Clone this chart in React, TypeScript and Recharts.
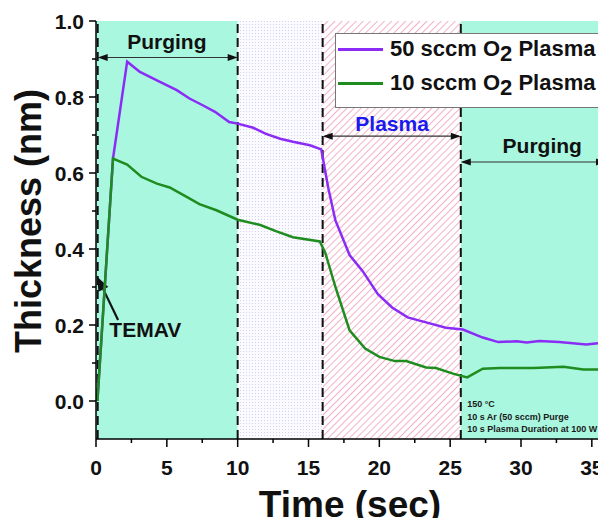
import React from 'react';
import { LineChart, Line, XAxis, YAxis, ReferenceArea, ReferenceLine, ReferenceDot, Legend } from 'recharts';

// ---- data ----
const time50 = [0.1, 1.2, 2.2, 3.1, 4.3, 5.7, 6.6, 7.6, 8.4, 9.4, 10.0, 11.1, 12.0, 13.0, 13.9, 15.1, 15.9, 16.4, 16.9, 17.9, 18.8, 19.9, 20.9, 22.0, 23.3, 24.7, 25.9, 27.3, 28.4, 29.7, 30.4, 31.3, 32.7, 34.6, 36.0];
const thick50 = [0, 0.638, 0.893, 0.866, 0.844, 0.818, 0.796, 0.777, 0.761, 0.734, 0.730, 0.719, 0.703, 0.690, 0.682, 0.673, 0.662, 0.56, 0.475, 0.384, 0.343, 0.281, 0.246, 0.220, 0.207, 0.193, 0.188, 0.167, 0.155, 0.157, 0.154, 0.158, 0.155, 0.149, 0.154];

const time10 = [0.1, 1.2, 2.2, 3.2, 4.3, 5.2, 6.4, 7.3, 8.5, 10.0, 11.6, 12.7, 13.9, 15.8, 16.2, 16.9, 17.9, 19.0, 20.0, 21.1, 21.9, 23.3, 24.0, 25.2, 26.2, 27.3, 28.5, 30.9, 33.0, 34.4, 36.0];
const thick10 = [0, 0.638, 0.622, 0.590, 0.572, 0.562, 0.537, 0.518, 0.502, 0.477, 0.463, 0.447, 0.431, 0.420, 0.388, 0.300, 0.186, 0.138, 0.116, 0.105, 0.105, 0.088, 0.087, 0.072, 0.062, 0.085, 0.087, 0.087, 0.090, 0.083, 0.083];

const seriesNames = ['50 sccm O2 Plasma', '10 sccm O2 Plasma'];
const legendParts = [
  { prefix: '50 sccm O', sub: '2', suffix: ' Plasma' },
  { prefix: '10 sccm O', sub: '2', suffix: ' Plasma' },
];

const xMajorTicks = [0, 5, 10, 15, 20, 25, 30, 35];
const xMinorTicks = [2.5, 7.5, 12.5, 17.5, 22.5, 27.5, 32.5];
const yMajorTicks = [0, 0.2, 0.4, 0.6, 0.8, 1.0];
const yMinorTicks = [0.1, 0.3, 0.5, 0.7, 0.9];

// phases (background regions)
const phaseStart = [0, 10, 16, 25.75];
const phaseEnd = [10, 16, 25.75, 36];
const phaseFill = ['#aaf7df', 'url(#dots)', 'url(#hatch)', '#aaf7df'];
const dashedAt = [0.12, 10, 16, 25.75];

// double arrows + labels
const spanX1 = [0.12, 16, 25.75];
const spanX2 = [10, 25.75, 36];
const spanY = [0.904, 0.697, 0.629];
const spanLabel = ['Purging', 'Plasma', 'Purging'];
const spanLabelX = [5.0, 20.9, 31.5];
const spanLabelY = [0.927, 0.71, 0.652];
const spanLabelColor = ['#111', '#1a1aee', '#111'];

const temavTail = { x: 1.56, y: 0.213 };
const temavTip = { x: 0.09, y: 0.327 };
const temavText = { x: 3.48, y: 0.168, text: 'TEMAV' };

const condLines = ['150 \u00B0C', '10 s Ar (50 sccm) Purge', '10 s Plasma Duration at 100 W'];
const condX = 26.2;
const condY = -0.016;

const FONT = '"Liberation Sans", Arial, Helvetica, sans-serif';
const PURPLE = '#8a2cf5';
const GREEN = '#1e8c1e';
const seriesColors = [PURPLE, GREEN];

const data50 = time50.map((t, i) => ({ x: t, y: thick50[i] }));
const data10 = time10.map((t, i) => ({ x: t, y: thick10[i] }));

const isIn = (arr: number[], v: number) => arr.some((t) => Math.abs(t - v) < 1e-6);

function YTick(props: any) {
  const { x, y, payload } = props;
  const v = payload.value;
  const major = isIn(yMajorTicks, v);
  return (
    <g>
      <line x1={x - (major ? 7 : 4)} x2={x} y1={y} y2={y} stroke="#000" strokeWidth={1.5} />
      {major && (
        <text x={x - 12} y={y} dy="0.36em" textAnchor="end" fontSize={21} fontWeight="bold" fontFamily={FONT} fill="#111">
          {v.toFixed(1)}
        </text>
      )}
    </g>
  );
}

function XTick(props: any) {
  const { x, y, payload } = props;
  const v = payload.value;
  const major = isIn(xMajorTicks, v);
  return (
    <g>
      <line x1={x} x2={x} y1={y} y2={y + (major ? 8 : 4)} stroke="#000" strokeWidth={1.5} />
      {major && (
        <text x={x} y={y + 28} dy="0.36em" textAnchor="middle" fontSize={21} fontWeight="bold" fontFamily={FONT} fill="#111">
          {v}
        </text>
      )}
    </g>
  );
}

function TopTick(props: any) {
  const { x, y, payload } = props;
  const major = isIn(xMajorTicks, payload.value);
  return <line x1={x} x2={x} y1={y} y2={y + (major ? 7 : 4)} stroke="#000" strokeWidth={1.2} />;
}

function YTitle(props: any) {
  const vb = props.viewBox || { x: 0, y: 13, width: 88, height: 418 };
  const cx = vb.x + 32.5;
  const cy = vb.y + vb.height / 2 - 9;
  return (
    <text transform={`translate(${cx},${cy}) rotate(-90)`} x={0} y={0} textAnchor="middle" fontSize={36} fontWeight="bold" fontFamily={FONT} fill="#111">
      Thickness (nm)
    </text>
  );
}

function XTitle(props: any) {
  const vb = props.viewBox || { x: 88, y: 431, width: 510, height: 79 };
  return (
    <text x={vb.x + vb.width / 2 - 1} y={vb.y + 78} textAnchor="middle" fontSize={37} fontWeight="bold" fontFamily={FONT} fill="#111">
      Time (sec)
    </text>
  );
}

function DoubleArrow(props: any) {
  const { x1, y1, x2, y2 } = props;
  const ah = 10;
  const aw = 3.5;
  return (
    <g>
      <line x1={x1 + 2} y1={y1} x2={x2 - 2} y2={y2} stroke="#333" strokeWidth={1.2} />
      <polygon points={`${x1},${y1} ${x1 + ah},${y1 - aw} ${x1 + ah},${y1 + aw}`} fill="#111" />
      <polygon points={`${x2},${y2} ${x2 - ah},${y2 - aw} ${x2 - ah},${y2 + aw}`} fill="#111" />
    </g>
  );
}

function PointerArrow(props: any) {
  const { x1, y1, x2, y2 } = props;
  const dx = x2 - x1;
  const dy = y2 - y1;
  const len = Math.sqrt(dx * dx + dy * dy);
  const ux = dx / len;
  const uy = dy / len;
  const ah = 14;
  const aw = 5.5;
  const bx = x2 - ux * ah;
  const by = y2 - uy * ah;
  return (
    <g>
      <line x1={x1} y1={y1} x2={bx} y2={by} stroke="#111" strokeWidth={2.2} />
      <polygon points={`${x2},${y2} ${bx - uy * aw},${by + ux * aw} ${bx + uy * aw},${by - ux * aw}`} fill="#111" />
    </g>
  );
}

function makeTextShape(text: string, color: string, size: number, anchor: string) {
  return (p: any) => (
    <text x={p.cx} y={p.cy} textAnchor={anchor} fontSize={size} fontWeight="bold" fontFamily={FONT} fill={color}>
      {text}
    </text>
  );
}

function CondShape(p: any) {
  return (
    <text x={p.cx} y={p.cy} fontSize={9} fontWeight="bold" fontFamily={FONT} fill="#1a1a1a">
      {condLines.map((l, i) => (
        <tspan key={i} x={p.cx} dy={i === 0 ? 0 : 12.5}>
          {l}
        </tspan>
      ))}
    </text>
  );
}

function LegendBox() {
  return (
    <div
      style={{
        width: 268,
        height: 75,
        border: '1px solid #777',
        background: '#fff',
        boxSizing: 'border-box',
        position: 'relative',
        fontFamily: FONT,
      }}
    >
      {legendParts.map((parts, i) => (
        <div
          key={i}
          title={seriesNames[i]}
          style={{ position: 'absolute', left: 2, top: i === 0 ? 3 : 37, height: 24, display: 'flex', alignItems: 'center', whiteSpace: 'nowrap' }}
        >
          <span style={{ display: 'inline-block', width: 45, height: 3, background: seriesColors[i], marginRight: 7 }} />
          <span style={{ fontSize: 22, fontWeight: 'bold', color: '#111', lineHeight: '24px' }}>
            {parts.prefix}
            <span style={{ position: 'relative', top: 5 }}>{parts.sub}</span>
            {parts.suffix}
          </span>
        </div>
      ))}
    </div>
  );
}

const allXTicks = [...xMajorTicks, ...xMinorTicks].sort((a, b) => a - b);
const allYTicks = [...yMajorTicks, ...yMinorTicks].sort((a, b) => a - b);

export default function App() {
  return (
    <div style={{ width: 598, height: 510 }}>
      <style>{`.recharts-surface{overflow:visible}`}</style>
      <LineChart width={598} height={510} margin={{ top: 13, right: 0, left: 0, bottom: 0 }}>
        <defs>
          <pattern id="dots" width="3" height="3" patternUnits="userSpaceOnUse">
            <rect width="3" height="3" fill="#fbfbff" />
            <circle cx="1.5" cy="1.5" r="0.5" fill="#c2c2ea" />
          </pattern>
          <pattern id="hatch" width="5" height="5" patternUnits="userSpaceOnUse" patternTransform="rotate(45)">
            <rect width="5" height="5" fill="#ffffff" />
            <line x1="0" y1="0" x2="0" y2="5" stroke="#f09cbc" strokeWidth="1.6" />
          </pattern>
        </defs>
        <XAxis
          xAxisId={0}
          dataKey="x"
          type="number"
          domain={[0, 36]}
          ticks={allXTicks}
          interval={0}
          tickSize={0}
          tickMargin={0}
          tickLine={false}
          tick={<XTick />}
          axisLine={{ stroke: '#000', strokeWidth: 1.5 }}
          height={79}
          label={<XTitle />}
          allowDataOverflow
        />
        <XAxis
          xAxisId="top"
          orientation="top"
          dataKey="x"
          type="number"
          domain={[0, 36]}
          ticks={allXTicks}
          interval={0}
          tickSize={0}
          tickMargin={0}
          tickLine={false}
          tick={<TopTick />}
          axisLine={{ stroke: '#000', strokeWidth: 1.5 }}
          height={0}
          allowDataOverflow
        />
        <YAxis
          type="number"
          domain={[-0.1, 1.0]}
          ticks={allYTicks}
          interval={0}
          tickSize={0}
          tickMargin={0}
          tickLine={false}
          tick={<YTick />}
          axisLine={{ stroke: '#000', strokeWidth: 1.5 }}
          width={88}
          label={<YTitle />}
          allowDataOverflow
        />
        {phaseStart.map((s, i) => (
          <ReferenceArea key={`area${i}`} x1={s} x2={phaseEnd[i]} fill={phaseFill[i]} fillOpacity={1} stroke="none" ifOverflow="hidden" />
        ))}
        {dashedAt.map((v, i) => (
          <ReferenceLine key={`dash${i}`} x={v} stroke="#111" strokeWidth={2} strokeDasharray="9 5" />
        ))}
        {spanX1.map((s, i) => (
          <ReferenceLine
            key={`span${i}`}
            segment={[
              { x: s, y: spanY[i] },
              { x: spanX2[i], y: spanY[i] },
            ]}
            shape={DoubleArrow}
            ifOverflow="visible"
          />
        ))}
        {spanLabel.map((t, i) => (
          <ReferenceDot
            key={`lab${i}`}
            x={spanLabelX[i]}
            y={spanLabelY[i]}
            r={0}
            shape={makeTextShape(t, spanLabelColor[i], 21, 'middle')}
            ifOverflow="visible"
          />
        ))}
        <ReferenceLine segment={[temavTail, temavTip]} shape={PointerArrow} ifOverflow="visible" />
        <ReferenceDot x={temavText.x} y={temavText.y} r={0} shape={makeTextShape(temavText.text, '#111', 21, 'middle')} ifOverflow="visible" />
        <ReferenceDot x={condX} y={condY} r={0} shape={CondShape} ifOverflow="visible" />
        <Line
          data={data50}
          dataKey="y"
          name={seriesNames[0]}
          type="linear"
          stroke={PURPLE}
          strokeWidth={2.5}
          dot={false}
          activeDot={false}
          isAnimationActive={false}
        />
        <Line
          data={data10}
          dataKey="y"
          name={seriesNames[1]}
          type="linear"
          stroke={GREEN}
          strokeWidth={2.5}
          dot={false}
          activeDot={false}
          isAnimationActive={false}
        />
        <Legend
          layout="horizontal"
          align="center"
          verticalAlign="middle"
          content={<LegendBox />}
          wrapperStyle={{ left: 327, top: 25, width: 268, height: 75 }}
        />
      </LineChart>
    </div>
  );
}
